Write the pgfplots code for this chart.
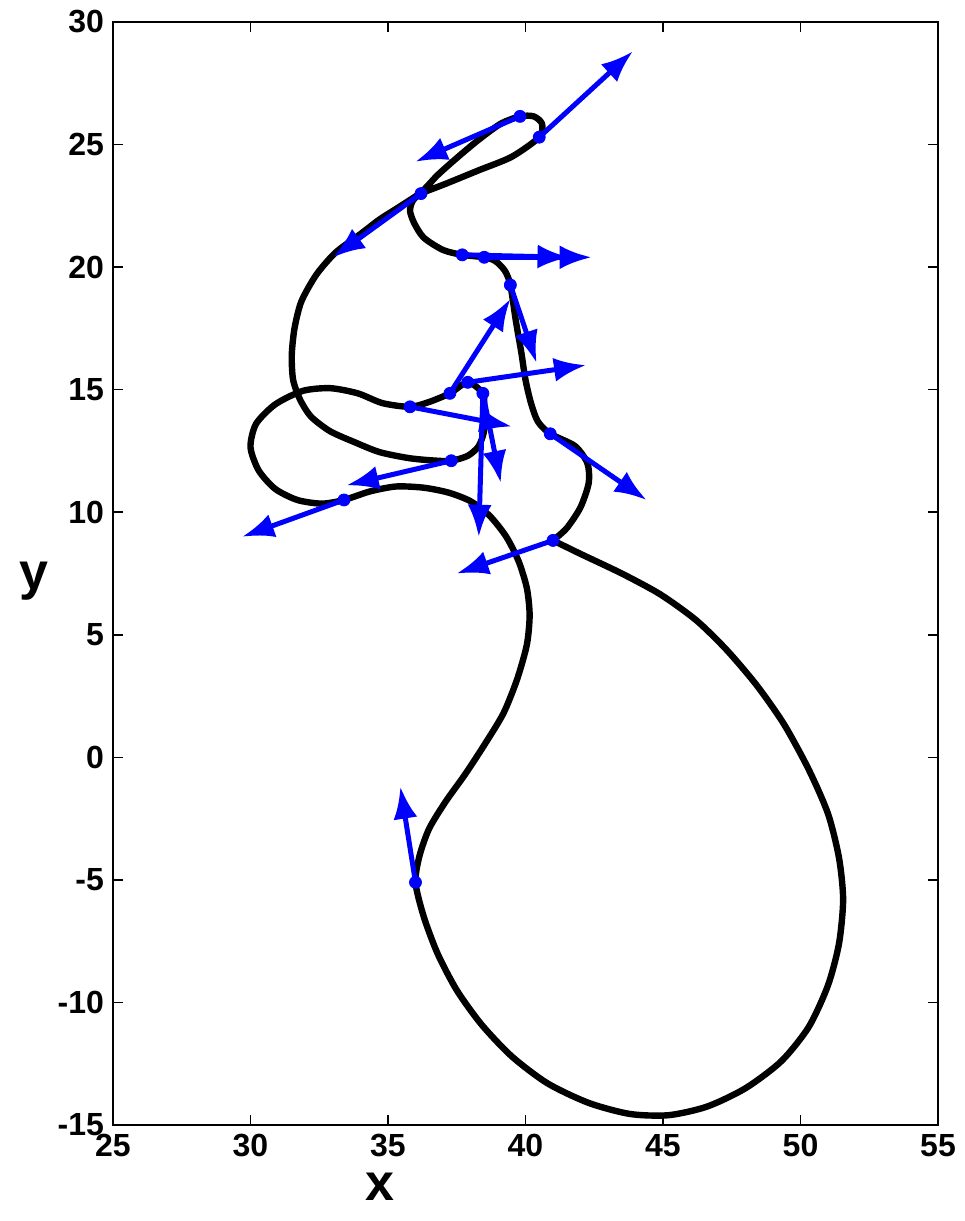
\documentclass[border=0pt]{standalone}
\usepackage{fontspec}
\setmainfont{Liberation Sans}
\usepackage{pgfplots}
\pgfplotsset{compat=1.18}
\usetikzlibrary{arrows.meta}

\begin{document}
\begin{tikzpicture}
\begin{axis}[
  at={(0,0)}, anchor=south west,
  scale only axis, width=412.5pt, height=551.5pt,
  xmin=25, xmax=55, ymin=-15, ymax=30,
  xtick={25,30,...,55}, ytick={-15,-10,...,30},
  tick align=inside, major tick length=5pt,
  axis line style={line width=1pt},
  every tick/.style={black, line width=0.8pt},
  /pgf/number format/assume math mode=true,
  tick label style={font=\fontsize{16}{18}\selectfont\bfseries},
  yticklabel style={xshift=-1pt},
  xticklabel style={yshift=-1pt},
]
% trajectory
\addplot[black, line width=3.2pt, line join=round, line cap=round, smooth, tension=0.45] coordinates {
(41.0,8.85) (42.0,8.3) (43.5,7.5) (44.9,6.65) (46.2,5.6) (47.3,4.4) (48.4,2.95)
(49.4,1.35) (50.3,-0.5) (51.0,-2.3) (51.4,-4.1) (51.55,-5.8) (51.4,-7.6)
(51.0,-9.3) (50.3,-11.0) (49.3,-12.4) (48.0,-13.5) (46.6,-14.25) (45.2,-14.6)
(43.8,-14.55) (42.3,-14.1) (40.8,-13.3) (39.5,-12.2) (38.4,-10.9) (37.5,-9.5)
(36.8,-8.0) (36.3,-6.5) (36.0,-5.1) (36.15,-4.0) (36.5,-2.9) (37.1,-1.8)
(37.8,-0.7) (38.5,0.5) (39.2,1.8) (39.7,3.2) (40.05,4.6) (40.15,5.8) (40.05,6.9)
(39.75,8.0) (39.3,9.0) (38.7,9.85) (38.0,10.45) (37.2,10.8) (36.3,11.0)
(35.3,11.05) (34.35,10.85) (33.4,10.5) (32.6,10.35) (31.7,10.5) (30.9,10.95)
(30.3,11.7) (30.0,12.65) (30.2,13.6) (30.9,14.4) (31.9,14.95) (32.9,15.06)
(33.9,14.85) (34.8,14.45) (35.8,14.3) (36.5,14.5) (37.25,14.85) (37.9,15.3)
(38.45,14.85) (38.5,14.2) (38.5,13.35) (38.3,12.7) (37.9,12.3) (37.3,12.1)
(36.8,12.1) (35.8,12.2) (34.7,12.45) (33.8,12.85) (32.9,13.3) (32.2,13.9)
(31.8,14.6) (31.55,15.4) (31.5,16.4) (31.6,17.5) (31.85,18.6) (32.4,19.7)
(33.1,20.6) (34.0,21.35) (34.7,21.95) (35.4,22.45) (36.2,23.05) (36.8,23.75)
(37.5,24.45) (38.3,25.2) (39.1,25.85) (39.8,26.15) (40.3,26.15) (40.6,25.85)
(40.5,25.3) (39.5,24.5) (38.3,23.95) (37.1,23.4) (36.2,23.0) (35.9,22.7)
(35.8,22.3) (35.95,21.8) (36.3,21.2) (37.0,20.7) (37.7,20.5) (38.5,20.4)
(38.9,20.25) (39.25,19.85) (39.45,19.27) (39.65,17.8) (39.85,16.5) (40.0,15.4)
(40.2,14.45) (40.45,13.7) (40.9,13.2) (41.8,12.7) (42.25,12.0) (42.3,11.2)
(42.0,10.2) (41.5,9.35) (41.0,8.85)
};
% vectors
\addplot[blue, line width=2.5pt,
  quiver={u=\thisrow{u}, v=\thisrow{v},
    every arrow/.append style={-{Latex[length=16pt,width=12pt]}}}]
  table {
x y u v
39.8 26.15 -3.8 -1.85
40.5 25.3 3.4 3.5
36.2 23.0 -3.2 -2.6
37.7 20.5 3.9 -0.1
38.5 20.4 3.9 0
39.45 19.27 0.95 -3.17
37.25 14.85 2.2 3.85
37.9 15.3 4.3 0.7
35.8 14.3 3.7 -0.8
38.45 14.85 0.65 -3.65
38.45 14.85 -0.15 -5.85
37.3 12.1 -3.8 -1.0
33.4 10.5 -3.7 -1.5
40.9 13.2 3.5 -2.7
41.0 8.85 -3.5 -1.35
36.0 -5.1 -0.55 3.9
};
% points
\addplot[only marks, mark=*, mark size=3pt, blue] coordinates {
(39.8,26.15) (40.5,25.3) (36.2,23.0) (37.7,20.5) (38.5,20.4) (39.45,19.27)
(37.25,14.85) (37.9,15.3) (35.8,14.3) (38.45,14.85) (37.3,12.1) (33.4,10.5)
(40.9,13.2) (41.0,8.85) (36.0,-5.1)
};
\end{axis}
\node[font=\fontsize{26}{28}\selectfont\bfseries, anchor=center] at (133.5pt,-31pt) {x};
\node[font=\fontsize{26}{28}\selectfont\bfseries, anchor=center] at (-39.5pt,272pt) {y};
\pgfresetboundingbox
\useasboundingbox (-56.5pt,-48pt) rectangle (425.5pt,562.5pt);
\end{tikzpicture}
\end{document}
